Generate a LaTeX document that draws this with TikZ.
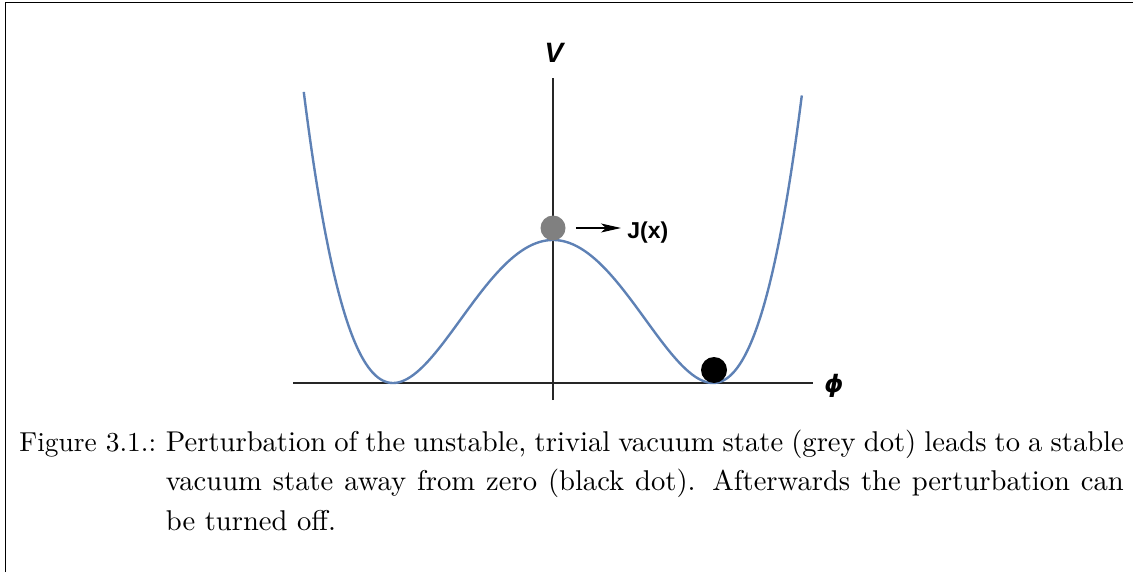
\documentclass[tikz,border=0pt]{standalone}
\usepackage{fontspec}
\newfontfamily\lsans{Liberation Sans}
\newfontfamily\dvsans{DejaVu Sans}
\newfontfamily\capfont[Extension=.otf]{lmroman10-regular}
\usetikzlibrary{arrows.meta}
\definecolor{curveblue}{RGB}{94,129,181}
\definecolor{dotgrey}{RGB}{128,128,128}
\begin{document}
\begin{tikzpicture}[x=0.5pt,y=-0.5pt,
  axis/.style={line width=0.7pt, draw=black!85},
  pot/.style={line width=1.2pt, draw=curveblue},
  ball/.style={circle, inner sep=0pt, draw=none},
  axlabel/.style={font=\lsans\bfseries\itshape\fontsize{14}{16}\selectfont, inner sep=0pt},
  jlabel/.style={font=\lsans\bfseries\fontsize{11.5}{13}\selectfont, inner sep=0pt},
  captext/.style={font=\capfont\fontsize{14.3}{19.8}\selectfont, inner sep=0pt},
  frameline/.style={line width=0.5pt, draw=black}]
\useasboundingbox (0,0) rectangle (1133,572);
% frame
\coordinate (fbl) at (5,572);
\coordinate (ftl) at (5,3);
\coordinate (ftr) at (1133,3);
\draw[frameline] (fbl) -- (ftl) -- (ftr);
% axes
\coordinate (xl) at (293,383);
\coordinate (xr) at (813,383);
\coordinate (yt) at (553,78);
\coordinate (yb) at (553,400);
\draw[axis] (xl) -- (xr);
\draw[axis] (yb) -- (yt);
% potential
\draw[pot] plot[domain=-1.5578:1.5578, samples=241, smooth]
  ({553+160*\x},{383-143*(\x*\x-1)*(\x*\x-1)});
% labels
\node[axlabel] (V) at (554,53) {V};
\node[axlabel, font=\dvsans\bfseries\itshape\fontsize{12}{14}\selectfont] (phi) at (834,386) {ϕ};
% dots
\node[ball, fill=dotgrey, minimum size=12.5pt] (grey) at (553,228) {};
\node[ball, fill=black, minimum size=13pt] (blackdot) at (714,370) {};
% J(x)
\node[jlabel, anchor=base west] (J) at (627,238) {J(x)};
\coordinate (jin) at (grey.east -| J.west);
\draw[-{Stealth[length=10pt,width=4.5pt,inset=2.5pt]}, line width=0.6pt] ([xshift=5pt]grey.east) -- ([xshift=-3pt]jin);
% caption
\node[captext, font=\capfont\fontsize{13.7}{19.8}\selectfont, anchor=base west] (figlab) at (19,451) {Figure 3.1.:};
\node[captext, text width=479pt, align=justify, anchor=base west] (cap) at (165.5,451)
  {Perturbation of the unstable, trivial vacuum state (grey dot) leads to a stable\linebreak
   vacuum state away from zero (black dot). Afterwards the perturbation can\linebreak
   be turned off.};
\end{tikzpicture}
\end{document}
